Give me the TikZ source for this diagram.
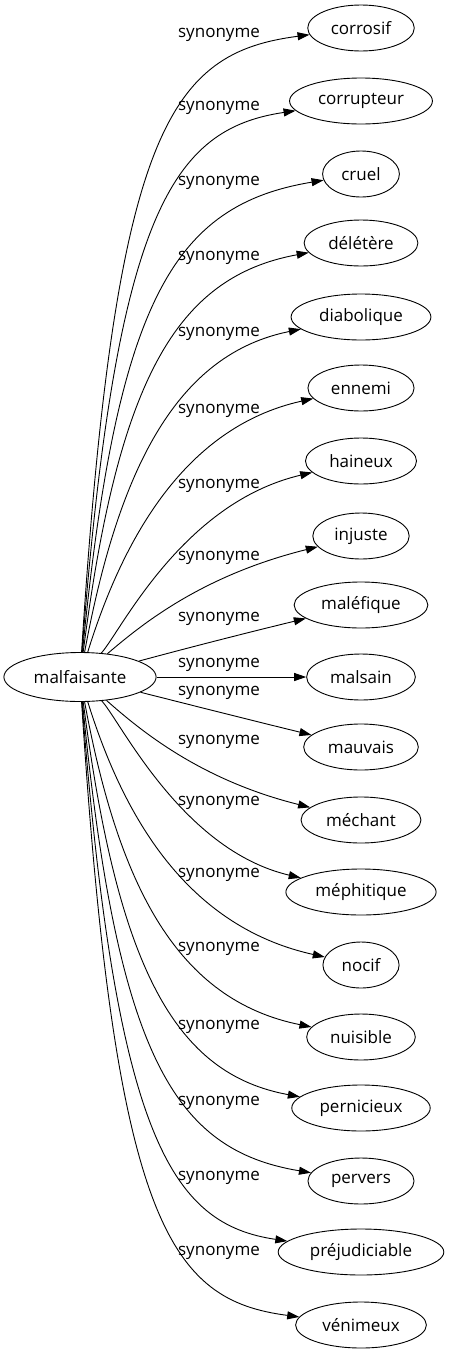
\documentclass[tikz,border=0pt]{standalone}
\usepackage{fontspec}
\setmainfont{Open Sans}
\usetikzlibrary{arrows.meta,shapes.geometric}
\begin{document}
\begin{tikzpicture}[x=1pt,y=-1pt,
  word/.style={ellipse,draw,line width=0.9pt,inner xsep=7.5pt,inner ysep=0pt,minimum height=46pt,font=\fontsize{17}{20}\selectfont},
  syn/.style={-{Triangle[length=12pt,width=8pt]},line width=0.9pt},
  lbl/.style={font=\fontsize{17}{20}\selectfont,inner sep=0pt}]
\useasboundingbox (0,0) rectangle (449,1355);

\node[word,minimum height=49pt] (malfaisante) at (80,677) {malfaisante};

\node[word] (corrosif) at (361,28) {corrosif};
\node[word] (corrupteur) at (361,101) {corrupteur};
\node[word] (cruel) at (361,174) {cruel};
\node[word] (deletere) at (361,243) {délétère};
\node[word] (diabolique) at (361,317) {diabolique};
\node[word] (ennemi) at (361,388) {ennemi};
\node[word] (haineux) at (361,461) {haineux};
\node[word] (injuste) at (361,536) {injuste};
\node[word] (malefique) at (361,605) {maléfique};
\node[word] (malsain) at (361,677) {malsain};
\node[word] (mauvais) at (361,747) {mauvais};
\node[word] (mechant) at (361,820) {méchant};
\node[word] (mephitique) at (361,892) {méphitique};
\node[word] (nocif) at (361,965) {nocif};
\node[word] (nuisible) at (361,1037) {nuisible};
\node[word] (pernicieux) at (361,1108) {pernicieux};
\node[word] (pervers) at (361,1181) {pervers};
\node[word] (prejudiciable) at (361,1252) {préjudiciable};
\node[word] (venimeux) at (361,1325) {vénimeux};

\draw[syn] (malfaisante) .. controls (115,128) and (170,53) .. (corrosif) node[lbl] at (219,35) {synonyme};
\draw[syn] (malfaisante) .. controls (116,213) and (172,129) .. (corrupteur) node[lbl] at (219,108) {synonyme};
\draw[syn] (malfaisante) .. controls (117,299) and (174,205) .. (cruel) node[lbl] at (219,183) {synonyme};
\draw[syn] (malfaisante) .. controls (118,380) and (176,277) .. (deletere) node[lbl] at (219,258) {synonyme};
\draw[syn] (malfaisante) .. controls (119,466) and (178,354) .. (diabolique) node[lbl] at (219,334) {synonyme};
\draw[syn] (malfaisante) .. controls (120,548) and (180,428) .. (ennemi) node[lbl] at (219,411) {synonyme};
\draw[syn] (malfaisante) .. controls (121,631) and (182,503) .. (haineux) node[lbl] at (219,486) {synonyme};
\draw[syn] (malfaisante) .. controls (140,626) and (200,576) .. (injuste) node[lbl] at (219,558) {synonyme};
\draw[syn] (malfaisante) .. controls (191,647) and (246,633) .. (malefique) node[lbl] at (219,619) {synonyme};
\draw[syn] (malfaisante) -- (malsain) node[lbl] at (219,665) {synonyme};
\draw[syn] (malfaisante) .. controls (191,705) and (246,719) .. (mauvais) node[lbl] at (219,693) {synonyme};
\draw[syn] (malfaisante) .. controls (140,730) and (200,780) .. (mechant) node[lbl] at (219,742) {synonyme};
\draw[syn] (malfaisante) .. controls (121,722) and (182,850) .. (mephitique) node[lbl] at (219,803) {synonyme};
\draw[syn] (malfaisante) .. controls (120,805) and (180,925) .. (nocif) node[lbl] at (219,875) {synonyme};
\draw[syn] (malfaisante) .. controls (119,888) and (178,1000) .. (nuisible) node[lbl] at (219,949) {synonyme};
\draw[syn] (malfaisante) .. controls (118,971) and (176,1074) .. (pernicieux) node[lbl] at (219,1027) {synonyme};
\draw[syn] (malfaisante) .. controls (117,1056) and (174,1150) .. (pervers) node[lbl] at (219,1103) {synonyme};
\draw[syn] (malfaisante) .. controls (116,1140) and (172,1224) .. (prejudiciable) node[lbl] at (219,1178) {synonyme};
\draw[syn] (malfaisante) .. controls (115,1225) and (170,1300) .. (venimeux) node[lbl] at (219,1253) {synonyme};
\end{tikzpicture}
\end{document}
